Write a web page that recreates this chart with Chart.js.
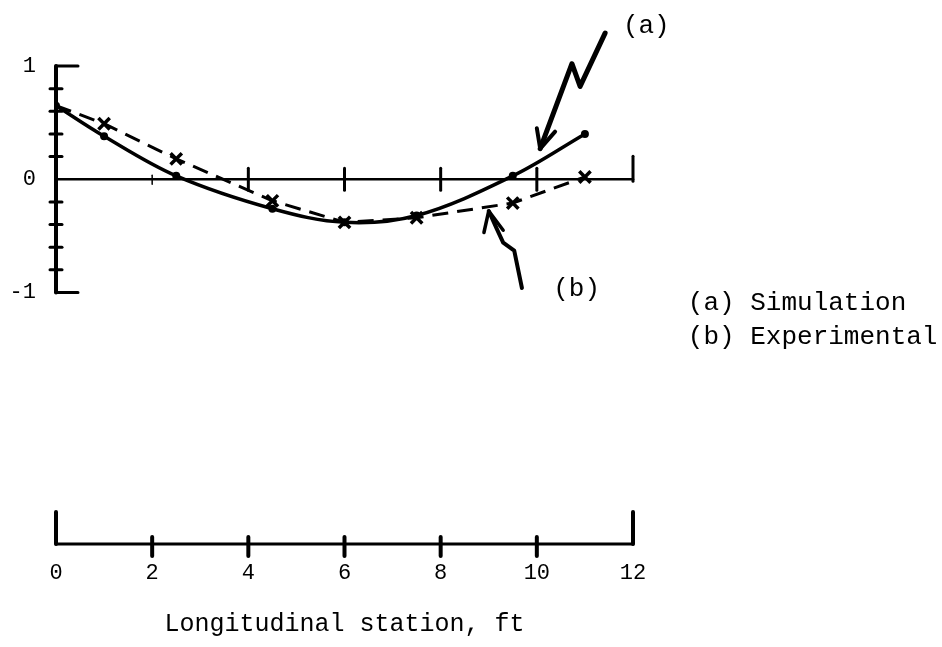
<!DOCTYPE html>
<html>
<head>
<meta charset="utf-8">
<script src="https://cdn.jsdelivr.net/npm/chart.js@4.4.1/dist/chart.umd.min.js"></script>
<style>
    body { margin: 0; background: #ffffff; }
    #wrap { width: 942px; height: 647px; }
</style>
</head>
<body>
<div id="wrap"><canvas id="stationChart" width="942" height="647"></canvas></div>
<script>
// stations (ft) and values
const stations = [0, 1, 2.5, 4.5, 6, 7.5, 9.5, 11];
const simulation = [0.65, 0.38, 0.03, -0.26, -0.38, -0.32, 0.03, 0.40];
const experimental = [0.65, 0.49, 0.18, -0.19, -0.38, -0.34, -0.21, 0.02];
const xTicks = [0, 2, 4, 6, 8, 10, 12];
const yTicks = [-1, 0, 1];
const seriesNames = ['(a) Simulation', '(b) Experimental'];
const xTitle = 'Longitudinal station, ft';

const fontName = '"Liberation Mono", "DejaVu Sans Mono", monospace';

function toPoints(xs, ys) {
    return xs.map((x, i) => ({ x: x, y: ys[i] }));
}

// axes are drawn by hand, the scanned figure has a broken axis layout
const drawAxes = {
    id: 'drawAxes',
    beforeDatasetsDraw(chart) {
        const ctx = chart.ctx;
        const xs = chart.scales.x;
        const ys = chart.scales.y;
        const px = (v) => xs.getPixelForValue(v);
        const py = (v) => ys.getPixelForValue(v);
        ctx.save();
        ctx.strokeStyle = '#000';
        ctx.lineCap = 'round';

        // vertical axis -1..1 with caps
        ctx.lineWidth = 4;
        ctx.beginPath();
        ctx.moveTo(px(0), py(1));
        ctx.lineTo(px(0), py(-1));
        ctx.stroke();
        ctx.lineWidth = 3;
        ctx.beginPath();
        ctx.moveTo(px(0), py(1));
        ctx.lineTo(px(0) + 22, py(1));
        ctx.moveTo(px(0), py(-1));
        ctx.lineTo(px(0) + 22, py(-1));
        ctx.stroke();
        // small ticks every 0.2
        for (let k = -4; k <= 4; k++) {
            if (k === 0) continue;
            const y = py(k * 0.2);
            ctx.beginPath();
            ctx.moveTo(px(0) - 6, y);
            ctx.lineTo(px(0) + 6, y);
            ctx.stroke();
        }

        // zero line with ticks
        ctx.lineWidth = 2.5;
        ctx.beginPath();
        ctx.moveTo(px(0), py(0));
        ctx.lineTo(px(12), py(0));
        ctx.stroke();
        xTicks.forEach((t) => {
            if (t === 0) return;
            const x = px(t);
            ctx.lineWidth = t === 2 ? 1.5 : 3;
            ctx.beginPath();
            if (t === 2) {
                ctx.moveTo(x, py(0) - 4);
                ctx.lineTo(x, py(0) + 5);
            } else if (t === 12) {
                ctx.moveTo(x, py(0) - 23);
                ctx.lineTo(x, py(0) + 2);
            } else {
                ctx.moveTo(x, py(0) - 11);
                ctx.lineTo(x, py(0) + 11);
            }
            ctx.stroke();
        });

        // lower station axis
        const yb = chart.chartArea.bottom;
        ctx.lineWidth = 3;
        ctx.beginPath();
        ctx.moveTo(px(0), yb);
        ctx.lineTo(px(12), yb);
        ctx.stroke();
        ctx.lineWidth = 4;
        xTicks.forEach((t) => {
            const x = px(t);
            ctx.beginPath();
            if (t === 0 || t === 12) {
                ctx.moveTo(x, yb - 32);
                ctx.lineTo(x, yb);
            } else {
                ctx.moveTo(x, yb - 7);
                ctx.lineTo(x, yb + 12);
            }
            ctx.stroke();
        });
        ctx.restore();
    },
};

// arrows, (a)/(b) tags and the key on the right
const drawNotes = {
    id: 'drawNotes',
    afterDatasetsDraw(chart) {
        const ctx = chart.ctx;
        const xs = chart.scales.x;
        const ys = chart.scales.y;
        const px = (v) => xs.getPixelForValue(v);
        const py = (v) => ys.getPixelForValue(v);
        ctx.save();
        ctx.strokeStyle = '#000';
        ctx.fillStyle = '#000';
        ctx.lineCap = 'round';
        ctx.lineJoin = 'round';

        function path(pts, w) {
            ctx.lineWidth = w;
            ctx.beginPath();
            pts.forEach((p, i) => {
                if (i === 0) ctx.moveTo(px(p[0]), py(p[1]));
                else ctx.lineTo(px(p[0]), py(p[1]));
            });
            ctx.stroke();
        }

        // (a) zigzag arrow
        path([[11.42, 1.29], [10.9, 0.82], [10.73, 1.02], [10.07, 0.27]], 5);
        path([[10.0, 0.45], [10.07, 0.27], [10.38, 0.42]], 4);
        // (b) wavy arrow
        path([[9.69, -0.96], [9.53, -0.63], [9.3, -0.56], [9.17, -0.44], [9.0, -0.28]], 4);
        path([[8.9, -0.47], [9.0, -0.28], [9.3, -0.45]], 3.5);

        ctx.font = '26px ' + fontName;
        ctx.textBaseline = 'middle';
        ctx.textAlign = 'left';
        ctx.fillText(seriesNames[0].slice(0, 3), px(11.79), py(1.35));
        ctx.fillText(seriesNames[1].slice(0, 3), px(10.34), py(-0.97));
        ctx.fillText(seriesNames[0], px(13.14), py(-1.09));
        ctx.fillText(seriesNames[1], px(13.14), py(-1.39));
        ctx.restore();
    },
};

const ctx = document.getElementById('stationChart').getContext('2d');
const myChart = new Chart(ctx, {
    type: 'line',
    data: {
        datasets: [
            {
                label: seriesNames[0],
                data: toPoints(stations, simulation),
                borderColor: '#000',
                backgroundColor: '#000',
                borderWidth: 3.5,
                tension: 0.35,
                pointStyle: 'circle',
                pointRadius: 4,
                pointBorderWidth: 0,
                fill: false,
            },
            {
                label: seriesNames[1],
                data: toPoints(stations, experimental),
                borderColor: '#000',
                backgroundColor: '#000',
                borderWidth: 3,
                borderDash: [16, 9],
                tension: 0,
                pointStyle: 'crossRot',
                pointRadius: (c) => (c.dataIndex === 0 ? 0 : 8),
                pointBorderWidth: 3.5,
                fill: false,
            },
        ],
    },
    options: {
        responsive: false,
        animation: false,
        layout: {
            autoPadding: false,
            padding: { top: 8, right: 309, bottom: 0, left: 0 },
        },
        plugins: {
            legend: { display: false },
            tooltip: { enabled: false },
        },
        scales: {
            x: {
                type: 'linear',
                min: 0,
                max: 12,
                grid: { display: false },
                border: { display: false },
                afterBuildTicks: (scale) => {
                    scale.ticks = xTicks.map((v) => ({ value: v }));
                },
                afterFit: (scale) => {
                    scale.height = 103;
                },
                ticks: {
                    color: '#000',
                    padding: 8,
                    maxRotation: 0,
                    font: { family: fontName, size: 22 },
                },
                title: {
                    display: true,
                    text: xTitle,
                    color: '#000',
                    padding: { top: 8, bottom: 8 },
                    font: { family: fontName, size: 25 },
                },
            },
            y: {
                type: 'linear',
                min: -3.22,
                max: 1.36,
                grid: { display: false },
                border: { display: false },
                afterBuildTicks: (scale) => {
                    scale.ticks = yTicks.map((v) => ({ value: v }));
                },
                afterFit: (scale) => {
                    scale.width = 56;
                },
                ticks: {
                    color: '#000',
                    padding: 12,
                    font: { family: fontName, size: 22 },
                },
            },
        },
    },
    plugins: [drawAxes, drawNotes],
});
</script>
</body>
</html>
